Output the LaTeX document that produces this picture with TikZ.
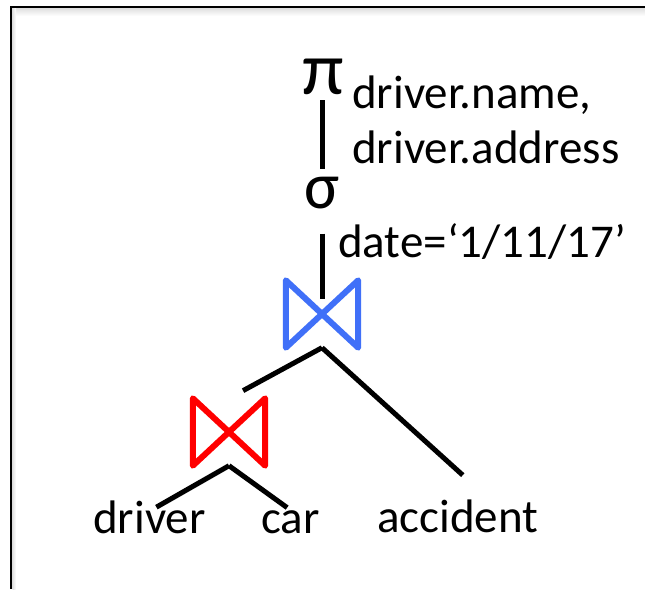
\documentclass[tikz,border=0pt]{standalone}
\usepackage{fontspec}
\setmainfont{Carlito}
\usetikzlibrary{calc}
\definecolor{joinblue}{RGB}{64,112,248}
\definecolor{joinred}{RGB}{255,0,0}
\tikzset{
  every node/.style={inner sep=0pt, font=\fontsize{47}{52}\selectfont},
  rel/.style={anchor=base west}, % relation names, subscripts
  op/.style={anchor=base west, font=\fontsize{66}{70}\selectfont}, % pi and sigma
  joinop/.style={minimum width=72pt, minimum height=67pt}, % box that holds a bowtie
  treeline/.style={line width=5pt},
  bowtie/.style={line width=6pt, line join=round},
}

\begin{document}
\begin{tikzpicture}[x=1pt, y=-1pt]
    \useasboundingbox (0,0) rectangle (645,589);

    % frame with its soft inner shadow
    \shade[top color=black!12, bottom color=white] (12,8.5) rectangle (645,16);
    \shade[left color=black!12, right color=white] (12.5,8.5) rectangle (16,589);
    \draw[line width=2.5pt] (645,7) -- (11,7) -- (11,589);

    \node[op, font=\fontsize{75}{80}\selectfont] (proj) at (302,94) {π};
    \node[rel] (attrA) at (352,108) {driver.name,};
    \node[rel] (attrB) at (352,163) {driver.address};
    \node[op] (sel) at (304,208) {σ};
    \node[rel] (cond) at (338,257) {date=‘1/11/17’};
    \node[joinop] (top) at (322,314) {};
    \node[joinop] (bot) at (229,432) {};
    \node[rel] (drv) at (93,533) {driver};
    \node[rel] (car) at (261,533) {car};
    \node[rel] (acc) at (377,532) {accident};

    % the two joins
    \draw[bowtie, joinblue] (top.north west) -- (top.south east) -- (top.north east) -- (top.south west) -- cycle;
    \draw[bowtie, joinred] (bot.north west) -- (bot.south east) -- (bot.north east) -- (bot.south west) -- cycle;

    \draw[treeline]
    (proj.south -| top) edge[shorten <=6pt, shorten >=7pt] (sel.north -| top)
    (sel.south -| top) edge[shorten <=25pt, shorten >=15pt] (top.center)
    (top.south) edge[shorten >=16pt] (bot.north)
    (top.south) edge ($(acc.north)+(5,-24)$)
    (bot.south) edge ($(drv.north)+(7,7)$)
    (bot.south) edge[shorten >=4pt] (car.north)
    ;

  \end{tikzpicture}
\end{document}
